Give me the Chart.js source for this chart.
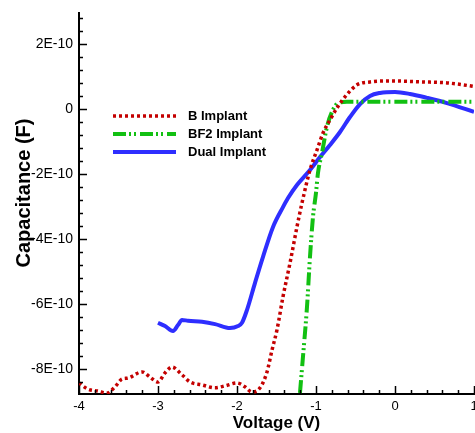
<!DOCTYPE html>
<html><head><meta charset="utf-8">
<script src="https://cdn.jsdelivr.net/npm/chart.js@4/dist/chart.umd.min.js"></script>
<style>html,body{margin:0;padding:0;background:#fff}#wrap{width:475px;height:433px}</style>
</head><body><div id="wrap"><canvas id="c" width="475" height="433"></canvas></div>
<script>
// Series: voltage (V) and capacitance (F)
const bV = [-4.0,-3.886,-3.76,-3.646,-3.544,-3.456,-3.38,-3.203,-3.101,-3.0,-2.911,-2.823,-2.696,-2.595,-2.443,-2.278,-2.152,-2.0,-1.899,-1.81,-1.709,-1.62,-1.557,-1.494,-1.418,-1.329,-1.241,-1.177,-1.076,-0.987,-0.911,-0.823,-0.734,-0.633,-0.481,-0.316,-0.063,0.354,0.658,0.949,1.0];
const bC = [-8.43e-10,-8.62e-10,-8.68e-10,-8.74e-10,-8.55e-10,-8.31e-10,-8.28e-10,-8.09e-10,-8.25e-10,-8.40e-10,-8.12e-10,-7.94e-10,-8.18e-10,-8.40e-10,-8.49e-10,-8.58e-10,-8.52e-10,-8.43e-10,-8.55e-10,-8.71e-10,-8.58e-10,-8.09e-10,-7.42e-10,-6.80e-10,-5.78e-10,-4.74e-10,-3.63e-10,-2.89e-10,-1.88e-10,-1.26e-10,-0.74e-10,-0.34e-10,0.03e-10,0.37e-10,0.74e-10,0.83e-10,0.86e-10,0.83e-10,0.80e-10,0.71e-10,0.69e-10];

const bf2V = [-1.203,-1.165,-1.114,-1.076,-1.038,-1.0,-0.975,-0.924,-0.861,-0.797,-0.722,-0.608,-0.3,0.0,0.5,1.0];
const bf2C = [-8.74e-10,-7.63e-10,-6.09e-10,-4.55e-10,-3.32e-10,-2.58e-10,-1.97e-10,-1.35e-10,-0.55e-10,-0.09e-10,0.18e-10,0.22e-10,0.22e-10,0.22e-10,0.22e-10,0.22e-10];

const dualV = [-3.0,-2.911,-2.81,-2.747,-2.696,-2.62,-2.443,-2.278,-2.089,-1.987,-1.937,-1.873,-1.772,-1.671,-1.544,-1.418,-1.354,-1.241,-1.076,-0.949,-0.823,-0.696,-0.57,-0.443,-0.316,-0.19,0.0,0.19,0.405,0.658,1.0];
const dualC = [-6.58e-10,-6.68e-10,-6.83e-10,-6.65e-10,-6.49e-10,-6.52e-10,-6.55e-10,-6.62e-10,-6.74e-10,-6.68e-10,-6.58e-10,-6.18e-10,-5.35e-10,-4.55e-10,-3.63e-10,-3.02e-10,-2.74e-10,-2.34e-10,-1.88e-10,-1.48e-10,-1.11e-10,-0.71e-10,-0.25e-10,0.15e-10,0.40e-10,0.49e-10,0.52e-10,0.46e-10,0.34e-10,0.18e-10,-0.09e-10];

const seriesNames = ['B Implant','BF2 Implant','Dual Implant'];
const xTickValues = [-4,-3,-2,-1,0,1];
const xTickLabels = ['-4','-3','-2','-1','0','1'];
const yTickValues = [2e-10,0,-2e-10,-4e-10,-6e-10,-8e-10];
const yTickLabels = ['2E-10','0','-2E-10','-4E-10','-6E-10','-8E-10'];
const xTitle = 'Voltage (V)';
const yTitle = 'Capacitance (F)';

const pts = (xs, ys) => xs.map((v, i) => ({x: v, y: ys[i]}));

const decor = {
  id: 'decor',
  afterDraw(chart) {
    const ctx = chart.ctx, xs = chart.scales.x, ys = chart.scales.y, ca = chart.chartArea;
    ctx.save();
    ctx.strokeStyle = '#000';
    ctx.lineWidth = 1.5;
    ctx.setLineDash([]);
    // x ticks (inward), minor every 0.2 V
    for (let k = 0; k <= 25; k++) {
      const v = -4 + k * 0.2;
      const major = k % 5 === 0;
      const px = Math.round(xs.getPixelForValue(v)) + 0.5;
      ctx.beginPath();
      ctx.moveTo(px, ca.bottom);
      ctx.lineTo(px, ca.bottom - (major ? 8 : 4));
      ctx.stroke();
    }
    // y ticks (inward), minor every 0.4E-10
    for (let k = -21; k <= 7; k++) {
      const v = k * 0.4e-10;
      if (v < ys.min || v > ys.max) continue;
      const major = k % 5 === 0;
      const py = Math.round(ys.getPixelForValue(v)) + 0.5;
      ctx.beginPath();
      ctx.moveTo(ca.left, py);
      ctx.lineTo(ca.left + (major ? 8 : 4), py);
      ctx.stroke();
    }
    // axis titles
    ctx.fillStyle = '#000';
    ctx.font = 'bold 17px "Liberation Sans", Arial, sans-serif';
    ctx.textAlign = 'center';
    ctx.textBaseline = 'alphabetic';
    ctx.fillText(xTitle, (ca.left + ca.right) / 2, 428);
    ctx.save();
    ctx.translate(30, 193);
    ctx.rotate(-Math.PI / 2);
    ctx.font = 'bold 20px "Liberation Sans", Arial, sans-serif';
    ctx.fillText(yTitle, 0, 0);
    ctx.restore();
    // legend
    ctx.font = 'bold 13px "Liberation Sans", Arial, sans-serif';
    ctx.textAlign = 'left';
    ctx.textBaseline = 'middle';
    const ly = [116, 134, 152];
    chart.data.datasets.forEach((ds, i) => {
      ctx.save();
      ctx.strokeStyle = ds.borderColor;
      ctx.lineWidth = ds.borderWidth;
      ctx.setLineDash(ds.borderDash || []);
      ctx.beginPath();
      ctx.moveTo(113, ly[i]);
      ctx.lineTo(176, ly[i]);
      ctx.stroke();
      ctx.restore();
      ctx.fillStyle = '#000';
      ctx.fillText(ds.label, 188, ly[i] + 0.5);
    });
    ctx.restore();
  }
};

new Chart(document.getElementById('c'), {
  type: 'line',
  data: {
    datasets: [
      {label: seriesNames[0], data: pts(bV, bC), borderColor: '#c40000', borderWidth: 3.5, borderDash: [3, 3], pointRadius: 0, cubicInterpolationMode: 'monotone', fill: false},
      {label: seriesNames[1], data: pts(bf2V, bf2C), borderColor: '#12c012', borderWidth: 4, borderDash: [13, 3, 2, 3, 2, 4], pointRadius: 0, cubicInterpolationMode: 'monotone', fill: false},
      {label: seriesNames[2], data: pts(dualV, dualC), borderColor: '#2e2eff', borderWidth: 4, pointRadius: 0, cubicInterpolationMode: 'monotone', fill: false}
    ]
  },
  options: {
    responsive: false,
    animation: false,
    layout: {padding: {left: 0, right: 1, top: 13, bottom: 0}},
    plugins: {legend: {display: false}, tooltip: {enabled: false}},
    scales: {
      x: {
        type: 'linear', min: -4, max: 1,
        grid: {display: false, drawTicks: false},
        border: {display: true, color: '#000', width: 2},
        afterBuildTicks: s => { s.ticks = xTickValues.map(v => ({value: v})); },
        ticks: {autoSkip: false, maxRotation: 0, padding: 5, color: '#000',
          font: {family: '"Liberation Sans", Arial, sans-serif', size: 13},
          callback: (v, i) => xTickLabels[i]},
        afterFit: s => { s.height = 39; s.paddingLeft = 0; s.paddingRight = 0; }
      },
      y: {
        type: 'linear', min: -8.77e-10, max: 2.95e-10,
        grid: {display: false, drawTicks: false},
        border: {display: true, color: '#000', width: 2},
        afterBuildTicks: s => { s.ticks = yTickValues.map(v => ({value: v})); },
        ticks: {autoSkip: false, padding: 6, color: '#000',
          font: {family: '"Liberation Sans", Arial, sans-serif', size: 14},
          callback: (v, i) => yTickLabels[i]},
        afterFit: s => { s.width = 79; s.paddingTop = 0; s.paddingBottom = 0; }
      }
    }
  },
  plugins: [decor]
});
</script>
</body></html>
